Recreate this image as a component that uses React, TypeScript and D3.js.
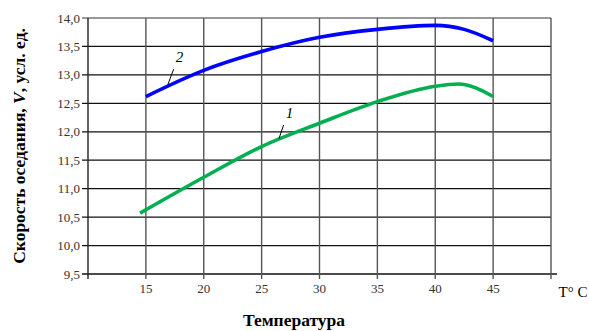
import React, { useEffect, useRef } from 'react'
import * as d3 from 'd3'

const width = 589
const height = 331
const margin = { top: 18, right: 38, bottom: 57, left: 88 }
const serif = 'Liberation Serif, Times New Roman, serif'

// temperature, °C
const xTicks = [15, 20, 25, 30, 35, 40, 45]
const yTicks = [9.5, 10.0, 10.5, 11.0, 11.5, 12.0, 12.5, 13.0, 13.5, 14.0]

// curve 1 (green)
const curve1T = [14.5, 20, 25, 30, 35, 40, 42, 45]
const curve1V = [10.57, 11.2, 11.74, 12.15, 12.53, 12.8, 12.84, 12.62]

// curve 2 (blue)
const curve2T = [15, 20, 25, 30, 35, 40, 42.5, 45]
const curve2V = [12.62, 13.08, 13.41, 13.66, 13.8, 13.87, 13.8, 13.6]

const App = () => {
  const gridRef = useRef<SVGGElement>(null)

  const xScale = d3.scaleLinear().domain([10, 50]).range([margin.left, width - margin.right])
  const yScale = d3.scaleLinear().domain([9.5, 14]).range([height - margin.bottom, margin.top])

  const line = d3.line<[number, number]>()
    .x(d => xScale(d[0]))
    .y(d => yScale(d[1]))
    .curve(d3.curveMonotoneX)

  const path1 = line(curve1T.map((t, i) => [t, curve1V[i]]))
  const path2 = line(curve2T.map((t, i) => [t, curve2V[i]]))

  useEffect(() => {
    const g = d3.select(gridRef.current)
    g.selectAll('*').remove()
    const y0 = yScale(9.5)
    const y1 = yScale(14)
    const x0 = xScale(10)
    const x1 = xScale(50)

    // horizontal grid
    g.selectAll('line.h').data(yTicks).join('line')
      .attr('class', 'h')
      .attr('x1', x0 - 6).attr('x2', d => d === 9.5 ? x1 + 6 : x1)
      .attr('y1', d => yScale(d)).attr('y2', d => yScale(d))
      .attr('stroke', d => d === 14 ? '#777' : '#111')
      .attr('stroke-width', 1.3)

    // vertical grid
    g.selectAll('line.v').data([10, ...xTicks, 50]).join('line')
      .attr('class', 'v')
      .attr('x1', d => xScale(d)).attr('x2', d => xScale(d))
      .attr('y1', y1).attr('y2', y0 + 5)
      .attr('stroke', d => d === 10 ? '#222' : '#555')
      .attr('stroke-width', 1.4)

    g.selectAll('text.yt').data(yTicks).join('text')
      .attr('class', 'yt')
      .attr('x', x0 - 8).attr('y', d => yScale(d))
      .attr('dy', '0.35em')
      .attr('text-anchor', 'end')
      .attr('font-family', serif)
      .attr('font-size', 13)
      .attr('fill', '#333')
      .text(d => d3.format('.1f')(d).replace('.', ','))

    g.selectAll('text.xt').data(xTicks).join('text')
      .attr('class', 'xt')
      .attr('x', d => xScale(d)).attr('y', y0 + 19)
      .attr('text-anchor', 'middle')
      .attr('font-family', serif)
      .attr('font-size', 13)
      .attr('fill', '#333')
      .text(d => d)
  }, [])

  return (
    <svg width={width} height={height} fontFamily={serif} style={{ position: 'absolute', left: 0, top: 0 }}>
      <rect width={width} height={height} fill='#fff' />
      <g ref={gridRef}></g>
      <path d={path1 ?? ''} fill='none' stroke='#00b050' strokeWidth={3.6} />
      <path d={path2 ?? ''} fill='none' stroke='#0000ff' strokeWidth={3.6} />

      <line x1={xScale(16.9)} y1={yScale(12.83)} x2={xScale(17.4)} y2={yScale(13.1)} stroke='#000' strokeWidth={1} />
      <text x={xScale(17.9)} y={yScale(13.23)} fontFamily={serif} fontSize={15} fontStyle='italic' textAnchor='middle'>2</text>
      <line x1={xScale(26.5)} y1={yScale(11.88)} x2={xScale(26.9)} y2={yScale(12.12)} stroke='#000' strokeWidth={1} />
      <text x={xScale(27.4)} y={yScale(12.25)} fontFamily={serif} fontSize={15} fontStyle='italic' textAnchor='middle'>1</text>

      <text x={573} y={297} fontFamily={serif} fontSize={15} textAnchor='middle'>T° C</text>
      <text x={294} y={326} fontFamily={serif} fontSize={17.5} fontWeight='bold' textAnchor='middle'>Температура</text>
      <text transform={`translate(25, 146) rotate(-90)`} fontFamily={serif} fontSize={17.5} fontWeight='bold' textAnchor='middle'>
        Скорость оседания, <tspan fontStyle='italic'>V</tspan>, усл. ед.
      </text>
    </svg>
  )
}

export default App
